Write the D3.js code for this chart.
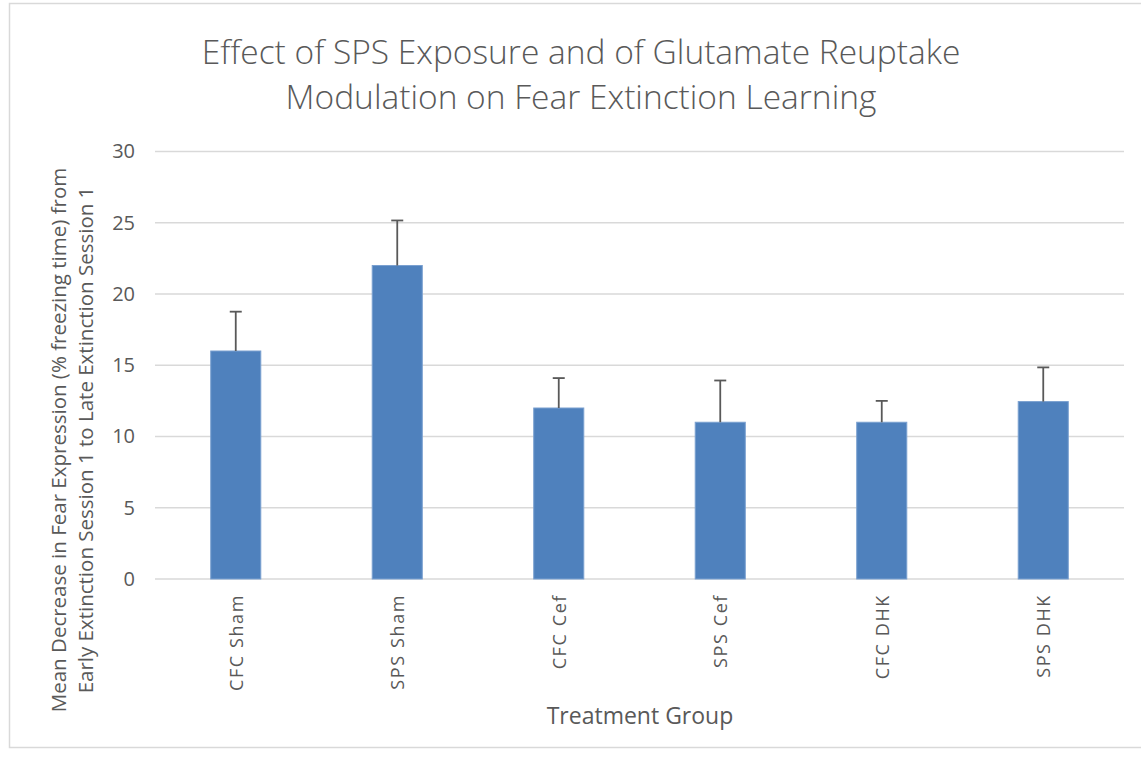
<!DOCTYPE html>
<html>
<head>
<meta charset="utf-8">
<script src="https://cdn.jsdelivr.net/npm/d3@7"></script>
<style>
  body { margin: 0; background: #fff; }
  text { font-family: "Open Sans", "Liberation Sans", sans-serif; fill: #595959; }
</style>
</head>
<body>
<svg id="chart" width="1141" height="759"></svg>
<script>
// Chart data
const groups = ['CFC Sham', 'SPS Sham', 'CFC Cef', 'SPS Cef', 'CFC DHK', 'SPS DHK'];
const means = [16, 22, 12, 11, 11, 12.45];
const errors = [2.76, 3.16, 2.1, 2.93, 1.5, 2.4];
const yTicks = [0, 5, 10, 15, 20, 25, 30];
const titleLines = ['Effect of SPS Exposure and of Glutamate Reuptake', 'Modulation on Fear Extinction Learning'];
const yTitleLines = ['Mean Decrease in Fear Expression (% freezing time) from', 'Early Extinction Session 1 to Late Extinction Session 1'];

const svg = d3.select('#chart');
const margin = { left: 155, right: 1124, top: 151.5, bottom: 579 };

// Outer frame
svg.append('rect')
  .attr('x', 9.5).attr('y', 3.5)
  .attr('width', 1140).attr('height', 744)
  .attr('fill', 'none')
  .attr('stroke', '#d9d9d9')
  .attr('stroke-width', 1.5);

const x = d3.scaleBand()
  .domain(groups)
  .range([margin.left, margin.right])
  .paddingInner(0.69)
  .paddingOuter(0.345);

const y = d3.scaleLinear()
  .domain([0, 30])
  .range([margin.bottom, margin.top]);

// Gridlines
svg.append('g')
  .selectAll('line')
  .data(yTicks)
  .join('line')
  .attr('x1', margin.left).attr('x2', margin.right)
  .attr('y1', d => y(d)).attr('y2', d => y(d))
  .attr('stroke', '#d9d9d9')
  .attr('stroke-width', 1.5);

// Y tick labels
const yAxis = d3.axisLeft(y).tickValues(yTicks).tickSize(0).tickPadding(0);
const yg = svg.append('g')
  .attr('transform', `translate(${margin.left - 20},0)`)
  .call(yAxis);
yg.select('.domain').remove();
yg.selectAll('text')
  .attr('font-size', 20)
  .attr('fill', '#595959')
  .style('font-family', '"Open Sans", sans-serif');

// Bars
svg.append('g')
  .selectAll('rect')
  .data(groups)
  .join('rect')
  .attr('x', d => x(d))
  .attr('y', (d, i) => y(means[i]))
  .attr('width', x.bandwidth())
  .attr('height', (d, i) => y(0) - y(means[i]))
  .attr('fill', '#4f81bd')
  .attr('stroke', '#7aa0d0')
  .attr('stroke-width', 1);

// Error bars (positive only)
const eg = svg.append('g')
  .attr('stroke', '#595959')
  .attr('stroke-width', 1.8);
groups.forEach((g, i) => {
  const cx = x(g) + x.bandwidth() / 2;
  eg.append('line')
    .attr('x1', cx).attr('x2', cx)
    .attr('y1', y(means[i])).attr('y2', y(means[i] + errors[i]));
  eg.append('line')
    .attr('x1', cx - 6).attr('x2', cx + 6)
    .attr('y1', y(means[i] + errors[i])).attr('y2', y(means[i] + errors[i]));
});

// X labels, rotated
svg.append('g')
  .selectAll('text')
  .data(groups)
  .join('text')
  .attr('transform', d => `translate(${x(d) + x.bandwidth() / 2 + 7},594) rotate(-90)`)
  .attr('text-anchor', 'end')
  .attr('font-size', 18)
  .attr('letter-spacing', 1.6)
  .text(d => d);

// Title
svg.append('g')
  .selectAll('text')
  .data(titleLines)
  .join('text')
  .attr('x', 581)
  .attr('y', (d, i) => 64 + i * 45)
  .attr('text-anchor', 'middle')
  .attr('font-size', 33.5)
  .attr('font-weight', 300)
  .text(d => d);

// Axis titles
svg.append('text')
  .attr('x', 640).attr('y', 724)
  .attr('text-anchor', 'middle')
  .attr('font-size', 23)
  .text('Treatment Group');

svg.append('g')
  .selectAll('text')
  .data(yTitleLines)
  .join('text')
  .attr('transform', (d, i) => `translate(${66 + i * 27},440) rotate(-90)`)
  .attr('text-anchor', 'middle')
  .attr('font-size', 20.5)
  .text(d => d);
</script>
</body>
</html>
